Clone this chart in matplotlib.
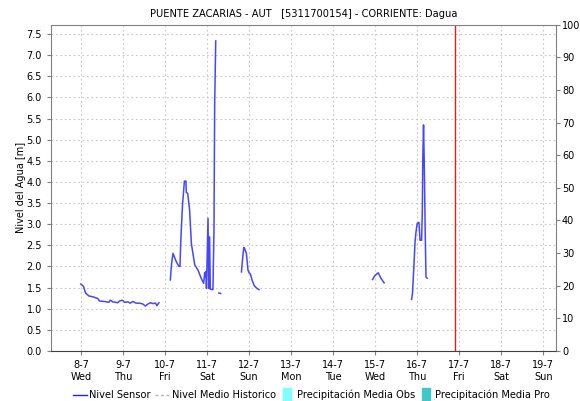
import matplotlib
matplotlib.use("Agg")
import matplotlib.pyplot as plt
from matplotlib.lines import Line2D
import pandas as pd

# fecha base: 8-7 (miércoles) 00:00, horas relativas a ella
base = pd.Timestamp("2020-07-08 00:00")

seg1_h = [0, 1.5, 2.7, 4.6, 6.9, 9.7, 10.7, 13.5, 16, 16.8, 18.3, 21.1, 22.1, 23.7,
          25, 26.9, 28.2, 29.7, 31.6, 33.5, 35.4, 36.9, 38.3, 39.7, 41.1, 42.7, 43.4, 44.6]
seg1_m = [1.58, 1.53, 1.37, 1.30, 1.28, 1.24, 1.18, 1.17, 1.15, 1.20, 1.16, 1.14, 1.18, 1.20,
          1.15, 1.16, 1.13, 1.17, 1.13, 1.13, 1.11, 1.06, 1.11, 1.14, 1.12, 1.13, 1.07, 1.14]

seg2_h = [51.1, 51.7, 52.6, 54.5, 56, 56.6, 57, 57.5, 58.1, 58.7, 59.1, 60, 60.2, 61, 62.1,
          63.1, 65, 66.9, 68.8, 70.1, 70.7, 71.1, 71.4, 71.7, 72.6, 73.0, 73.5, 73.9, 75.4,
          76.0, 76.4, 77.0]
seg2_m = [1.68, 2.03, 2.31, 2.11, 2.0, 2.0, 2.54, 3.0, 3.5, 3.79, 4.02, 4.02, 3.75, 3.73, 3.33,
          2.54, 2.04, 1.91, 1.71, 1.60, 1.85, 1.75, 1.88, 1.48, 3.14, 1.48, 2.70, 1.46, 1.45,
          2.86, 5.86, 7.34]

seg3_h = [78.8, 79.8]
seg3_m = [1.37, 1.36]

seg4_h = [91.7, 92.0, 93.0, 93.5, 94.5, 95.4, 96.0, 96.8, 97.7, 98.9, 100.2, 101.7]
seg4_m = [1.87, 2.04, 2.45, 2.42, 2.31, 1.91, 1.85, 1.82, 1.68, 1.55, 1.49, 1.45]

seg5_h = [166.5, 167.8, 169.7, 171.3, 173.1]
seg5_m = [1.69, 1.78, 1.85, 1.72, 1.61]

seg6_h = [188.8, 189.3, 189.7, 190.3, 190.7, 191.3, 192, 193, 193.6, 194.5, 194.9, 195.2,
          195.6, 196, 196.6, 197, 197.7]
seg6_m = [1.22, 1.36, 1.68, 2.17, 2.55, 2.82, 3.02, 3.04, 2.62, 2.62, 3.29, 4.6,
          5.35, 4.48, 2.7, 1.75, 1.72]

ahora = pd.Timestamp("2020-07-16 21:40")
x_ini = pd.Timestamp("2020-07-07 07:00")
x_fin = pd.Timestamp("2020-07-19 07:00")
dias = pd.date_range("2020-07-08", "2020-07-19", freq="D")

titulo = "PUENTE ZACARIAS - AUT   [5311700154] - CORRIENTE: Dagua"
labels = ["Nivel Sensor", "Nivel Medio Historico", "Precipitación Media Obs", "Precipitación Media Pro"]
azul = "#4646ff"

fig = plt.figure(figsize=(5.8, 4.01), dpi=100)
ax = fig.add_axes([0.088, 0.125, 0.870, 0.813])

for h, m in [(seg1_h, seg1_m), (seg2_h, seg2_m), (seg3_h, seg3_m),
             (seg4_h, seg4_m), (seg5_h, seg5_m), (seg6_h, seg6_m)]:
    t = base + pd.to_timedelta(h, unit="h")
    ax.plot(t, m, color=azul, lw=1.1)

ax.axvline(ahora, color="#e02020", lw=1.0)

ax.set_xlim(x_ini, x_fin)
ax.set_ylim(0, 7.72)
ax.set_yticks([i * 0.5 for i in range(16)])
ax.yaxis.set_major_formatter(plt.FormatStrFormatter("%.1f"))
ax.set_xticks(dias)
ax.set_xticklabels([f"{d.day}-{d.month}\n{d.strftime('%a')}" for d in dias])
ax.grid(True, color="#c8c8c8", ls=(0, (1.5, 2.5)), lw=0.8)
ax.set_ylabel("Nivel del Agua [m]", fontsize=7)
ax.yaxis.set_label_coords(-0.05, 0.5)
ax.set_title(titulo, fontsize=7.1, pad=6)
ax.tick_params(labelsize=7, length=3, color="#808080")

for s in ["top", "left", "right"]:
    ax.spines[s].set_color("#808080")
ax.spines["bottom"].set_linestyle((0, (1, 1)))
ax.spines["bottom"].set_color("#404040")

ax2 = ax.twinx()
ax2.set_ylim(0, 100)
ax2.set_yticks(range(0, 101, 10))
ax2.tick_params(labelsize=7, length=3, pad=1.5, color="#808080")
for s in ax2.spines.values():
    s.set_visible(False)

caja = [(-0.3, -0.5), (0.3, -0.5), (0.3, 0.5), (-0.3, 0.5), (-0.3, -0.5)]
handles = [
    Line2D([], [], color="#2020ff", lw=1),
    Line2D([], [], color="#b0b0b0", lw=1, ls=(0, (2, 2))),
    Line2D([], [], ls="none", marker=caja, markersize=10, color="#80ffff"),
    Line2D([], [], ls="none", marker=caja, markersize=10, color="#40c8c8"),
]
fig.legend(handles, labels, loc="lower center", bbox_to_anchor=(0.537, -0.02), ncol=4,
           frameon=False, fontsize=7.1, handlelength=1.5, handletextpad=0.2, columnspacing=0.4)

fig.savefig("out.png", dpi=100)
